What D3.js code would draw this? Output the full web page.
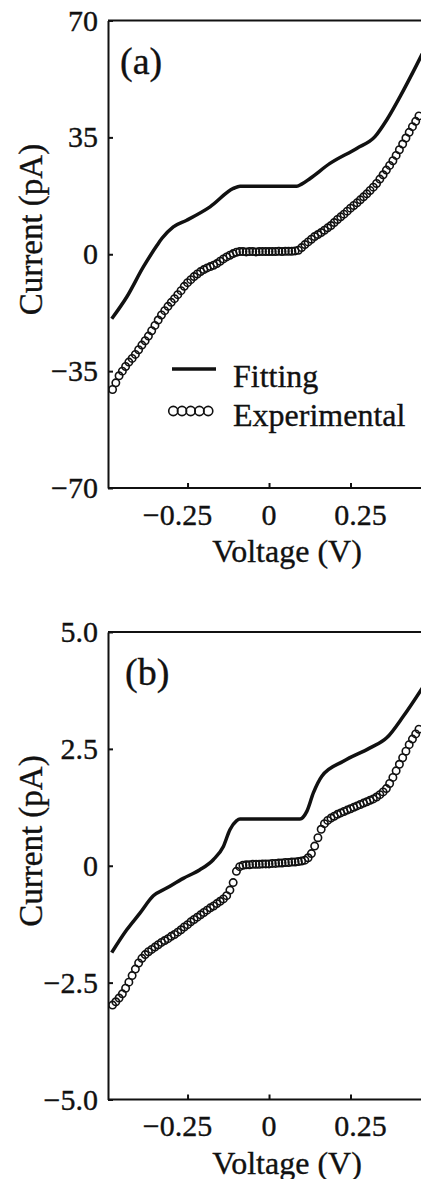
<!DOCTYPE html>
<html>
<head>
<meta charset="utf-8">
<script src="https://cdn.jsdelivr.net/npm/d3@7"></script>
<style>
  html, body { margin: 0; padding: 0; background: #fff; }
  svg { display: block; }
  text { font-family: "Liberation Serif", "Times New Roman", serif; fill: #111; stroke: #111; stroke-width: 0.35px; }
  .axis path, .axis line { stroke: #111; stroke-width: 2; }
</style>
</head>
<body>
<div id="viz"></div>
<script>
// voltage grid of the experimental points (V)
var voltage = [-0.48,-0.47,-0.46,-0.45,-0.44,-0.43,-0.42,-0.41,-0.40,-0.39,-0.38,-0.37,-0.36,-0.35,-0.34,-0.33,-0.32,-0.31,-0.30,-0.29,
  -0.28,-0.27,-0.26,-0.25,-0.24,-0.23,-0.22,-0.21,-0.20,-0.19,-0.18,-0.17,-0.16,-0.15,-0.14,-0.13,-0.12,-0.11,-0.10,-0.09,
  -0.08,-0.07,-0.06,-0.05,-0.04,-0.03,-0.02,-0.01,0.00,0.01,0.02,0.03,0.04,0.05,0.06,0.07,
  0.08,0.09,0.10,0.11,0.12,0.13,0.14,0.15,0.16,0.17,0.18,0.19,0.20,0.21,0.22,0.23,0.24,0.25,0.26,0.27,
  0.28,0.29,0.30,0.31,0.32,0.33,0.34,0.35,0.36,0.37,0.38,0.39,0.40,0.41,0.42,0.43,0.44,0.45,0.46];

// panel (a) experimental current (pA)
var expA = [-40.5,-38.5,-36.4,-35.0,-33.6,-32.3,-31.2,-30.0,-28.6,-27.2,-25.9,-24.5,-22.9,-21.3,-19.7,-18.2,-16.9,-15.6,-14.4,-13.3,
  -12.1,-10.9,-9.6,-8.5,-7.6,-6.7,-5.9,-5.2,-4.6,-4.1,-3.7,-3.3,-2.8,-2.1,-1.4,-0.8,-0.3,0.2,0.6,0.8,
  0.8,0.7,0.8,0.8,0.7,0.8,0.8,0.8,0.8,0.8,0.8,0.9,0.8,0.9,0.9,0.9,
  1.0,1.2,2.0,2.9,3.7,4.5,5.3,5.9,6.5,7.2,7.9,8.6,9.5,10.4,11.2,12.0,12.9,13.8,14.6,15.4,
  16.3,17.2,18.1,19.1,20.1,21.2,22.5,23.8,25.2,26.6,28.0,29.6,31.3,33.0,34.8,36.5,38.2,39.8,41.4];

// panel (a) fitting curve
var fitAV = [-0.4825,-0.4365,-0.3856,-0.344,-0.329,-0.2936,-0.2525,-0.181,-0.1095,-0.089,0.085,0.10,0.126,0.187,0.269,0.325,0.361,0.402,0.453,0.47];
var fitAI = [-19.3,-12.8,-3.8,2.6,4.7,8.2,10.2,14.2,19.7,20.4,20.4,21.0,22.7,27.2,31.7,35.2,40.2,47.2,56.7,60.0];

// panel (b) experimental current (pA)
var expB = [-2.98,-2.91,-2.83,-2.74,-2.62,-2.49,-2.35,-2.21,-2.08,-1.98,-1.90,-1.84,-1.79,-1.74,-1.69,-1.64,-1.60,-1.56,-1.51,-1.47,
  -1.42,-1.37,-1.31,-1.26,-1.20,-1.15,-1.10,-1.05,-1.00,-0.95,-0.90,-0.86,-0.81,-0.76,-0.71,-0.64,-0.52,-0.36,-0.12,-0.02,
  0.01,0.02,0.02,0.03,0.03,0.03,0.04,0.04,0.04,0.05,0.05,0.06,0.06,0.07,0.07,0.08,
  0.08,0.09,0.10,0.12,0.17,0.26,0.42,0.60,0.78,0.90,0.97,1.02,1.06,1.10,1.13,1.16,1.19,1.22,1.25,1.28,
  1.31,1.34,1.37,1.40,1.43,1.47,1.52,1.58,1.65,1.76,1.89,2.03,2.17,2.31,2.45,2.59,2.71,2.82,2.92];

// panel (b) fitting curve
var fitBV = [-0.4825,-0.4365,-0.396,-0.355,-0.314,-0.263,-0.212,-0.171,-0.140,-0.120,-0.100,-0.089,0.095,0.116,0.136,0.162,0.228,0.310,0.361,0.412,0.47];
var fitBI = [-1.857,-1.371,-1.014,-0.643,-0.478,-0.27,-0.086,0.129,0.414,0.771,0.96,1.0,1.0,1.163,1.557,1.914,2.234,2.521,2.736,3.198,3.80];

var xTicks = [-0.25, 0, 0.25];
var xTickLabels = ['\u22120.25', '0', '0.25'];
var yTicksA = [-70, -35, 0, 35, 70];
var yTickLabelsA = ['\u221270', '\u221235', '0', '35', '70'];
var yTicksB = [-5, -2.5, 0, 2.5, 5];
var yTickLabelsB = ['\u22125.0', '\u22122.5', '0', '2.5', '5.0'];

var legendNames = ['Fitting', 'Experimental'];

var width = 421, height = 1179;

var svg = d3.select('#viz').append('svg')
  .attr('width', width)
  .attr('height', height);

var x = d3.scaleLinear().domain([-0.494, 0.5]).range([108, 432]);

function drawPanel(opts){
  var top = opts.top, bottom = opts.top + 467.5;
  var y = d3.scaleLinear().domain(opts.domain).range([bottom, top]);
  var g = svg.append('g');

  // top frame line
  g.append('line')
    .attr('x1', x.range()[0]).attr('x2', width)
    .attr('y1', top).attr('y2', top)
    .style('stroke', '#111').style('stroke-width', 2);

  // axis X
  var ax = g.append('g').attr('class', 'axis')
    .attr('transform', 'translate(0,' + bottom + ')')
    .call(d3.axisBottom(x).tickValues(xTicks).tickSizeInner(-5).tickSizeOuter(0).tickFormat(''));
  ax.select('.domain').attr('d', 'M' + x.range()[0] + ',0H' + width);

  g.selectAll('.xlab')
    .data(xTicks)
    .enter().append('text')
      .attr('x', function(d, i){ return x(d) + [-10, 0, 10][i]; })
      .attr('y', bottom + 36.5)
      .attr('text-anchor', 'middle')
      .style('font-size', '30px')
      .text(function(d, i){ return xTickLabels[i]; });

  // axis Y
  g.append('g').attr('class', 'axis')
    .attr('transform', 'translate(' + x.range()[0] + ',0)')
    .call(d3.axisLeft(y).tickValues(opts.yTicks).tickSizeInner(-5).tickSizeOuter(0).tickFormat(''));

  g.selectAll('.ylab')
    .data(opts.yTicks)
    .enter().append('text')
      .attr('x', 98)
      .attr('y', function(d){ return y(d) + 10; })
      .attr('text-anchor', 'end')
      .style('font-size', '30px')
      .text(function(d, i){ return opts.yLabels[i]; });

  // titles
  g.append('text')
    .attr('x', 287).attr('y', bottom + 74)
    .attr('text-anchor', 'middle')
    .style('font-size', '32px')
    .text('Voltage (V)');

  g.append('text')
    .attr('transform', 'translate(42,' + (top + 209) + ') rotate(-90)')
    .attr('text-anchor', 'middle')
    .style('font-size', '33px')
    .text('Current (pA)');

  g.append('text')
    .attr('x', opts.labelX).attr('y', top + 53)
    .style('font-size', '38px')
    .text(opts.label);

  // fitting line
  var line = d3.line()
    .x(function(d){ return x(d[0]); })
    .y(function(d){ return y(d[1]); })
    .curve(d3.curveMonotoneX);

  g.append('path')
    .datum(d3.zip(opts.fitV, opts.fitI))
    .attr('d', line)
    .style('fill', 'none')
    .style('stroke', '#111')
    .style('stroke-width', 3.5)
    .style('stroke-linejoin', 'round');

  // experimental points
  g.selectAll('.pt')
    .data(d3.zip(voltage, opts.exp))
    .enter().append('circle')
      .attr('cx', function(d){ return x(d[0]); })
      .attr('cy', function(d){ return y(d[1]); })
      .attr('r', 3.7)
      .style('fill', 'none')
      .style('stroke', '#111')
      .style('stroke-width', 1.6);

  return g;
}

var gA = drawPanel({ top: 20.5, domain: [-70, 70], yTicks: yTicksA, yLabels: yTickLabelsA,
  fitV: fitAV, fitI: fitAI, exp: expA, label: '(a)', labelX: 120 });

drawPanel({ top: 632, domain: [-5, 5], yTicks: yTicksB, yLabels: yTickLabelsB,
  fitV: fitBV, fitI: fitBI, exp: expB, label: '(b)', labelX: 125 });

// legend (panel a)
var legend = gA.append('g');
legend.append('line')
  .attr('x1', 172).attr('x2', 216).attr('y1', 369).attr('y2', 369)
  .style('stroke', '#111').style('stroke-width', 3.5);
legend.selectAll('.leg-c')
  .data([173.3, 182, 190.7, 199.4, 208.2])
  .enter().append('circle')
    .attr('cx', function(d){ return d; })
    .attr('cy', 411)
    .attr('r', 4.6)
    .style('fill', 'none').style('stroke', '#111').style('stroke-width', 1.6);
legend.selectAll('.leg-t')
  .data(legendNames)
  .enter().append('text')
    .attr('x', 233)
    .attr('y', function(d, i){ return [387, 426][i]; })
    .style('font-size', '32px')
    .text(function(d){ return d; });
</script>
</body>
</html>
